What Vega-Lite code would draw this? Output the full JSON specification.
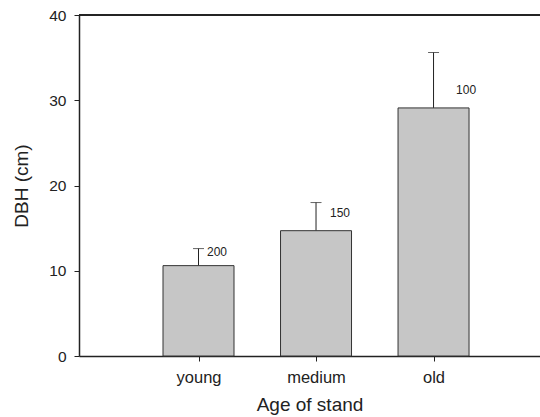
{
  "$schema": "https://vega.github.io/schema/vega-lite/v6.json",
  "width": 461,
  "height": 341,
  "autosize": {"type": "none"},
  "padding": {"left": 79, "top": 15, "right": 0, "bottom": 61},
  "background": "white",
  "config": {
    "view": {"stroke": null},
    "font": "Liberation Sans",
    "scale": {"continuousPadding": 0},
    "axis": {"grid": false, "domainColor": "#222", "tickColor": "#222", "labelColor": "#222", "titleColor": "#222", "titleFontWeight": "normal"}
  },
  "data": {
    "values": [
      {"stand": "young", "pos": 1, "dbh": 10.6, "err": 12.6, "n": "200"},
      {"stand": "medium", "pos": 2, "dbh": 14.7, "err": 18.0, "n": "150"},
      {"stand": "old", "pos": 3, "dbh": 29.1, "err": 35.6, "n": "100"}
    ]
  },
  "layer": [
    {
      "mark": {"type": "rule", "color": "#222", "strokeWidth": 1.5},
      "encoding": {"y": {"datum": 40, "type": "quantitative"}}
    },
    {
      "mark": {"type": "rule", "color": "#222", "strokeWidth": 1},
      "encoding": {
        "x": {"field": "pos", "type": "quantitative"},
        "y": {"field": "dbh", "type": "quantitative"},
        "y2": {"field": "err"}
      }
    },
    {
      "mark": {"type": "tick", "orient": "horizontal", "size": 11, "thickness": 1, "color": "#222"},
      "encoding": {
        "x": {"field": "pos", "type": "quantitative"},
        "y": {"field": "err", "type": "quantitative"}
      }
    },
    {
      "mark": {"type": "bar", "size": 71, "fill": "#c6c6c6", "stroke": "#333", "strokeWidth": 1},
      "encoding": {
        "x": {
          "field": "pos", "type": "quantitative",
          "scale": {"domain": [-0.017, 3.906], "nice": false, "zero": false, "padding": 0},
          "axis": {
            "values": [1, 2, 3],
            "labelExpr": "datum.value == 1 ? 'young' : datum.value == 2 ? 'medium' : 'old'",
            "title": "Age of stand",
            "titleFontSize": 19,
            "titlePadding": 10,
            "labelFontSize": 16.5,
            "labelPadding": 8,
            "tickSize": 5,
            "domainWidth": 1.5
          }
        },
        "y": {
          "field": "dbh", "type": "quantitative",
          "scale": {"domain": [0, 40], "nice": false, "padding": 0},
          "axis": {
            "values": [0, 10, 20, 30, 40],
            "title": "DBH (cm)",
            "titleFontSize": 19,
            "titlePadding": 17,
            "labelFontSize": 15.5,
            "labelPadding": 8,
            "tickSize": 5,
            "domainWidth": 1.5
          }
        }
      }
    },
    {
      "transform": [{"filter": "datum.pos == 1"}],
      "mark": {"type": "text", "align": "left", "baseline": "middle", "dx": 8.5, "dy": 3, "fontSize": 12, "color": "#222"},
      "encoding": {
        "x": {"field": "pos", "type": "quantitative"},
        "y": {"field": "err", "type": "quantitative"},
        "text": {"field": "n"}
      }
    },
    {
      "transform": [{"filter": "datum.pos == 2"}],
      "mark": {"type": "text", "align": "left", "baseline": "middle", "dx": 14, "dy": 10, "fontSize": 12, "color": "#222"},
      "encoding": {
        "x": {"field": "pos", "type": "quantitative"},
        "y": {"field": "err", "type": "quantitative"},
        "text": {"field": "n"}
      }
    },
    {
      "transform": [{"filter": "datum.pos == 3"}],
      "mark": {"type": "text", "align": "left", "baseline": "middle", "dx": 22.5, "dy": 37, "fontSize": 12, "color": "#222"},
      "encoding": {
        "x": {"field": "pos", "type": "quantitative"},
        "y": {"field": "err", "type": "quantitative"},
        "text": {"field": "n"}
      }
    }
  ]
}
